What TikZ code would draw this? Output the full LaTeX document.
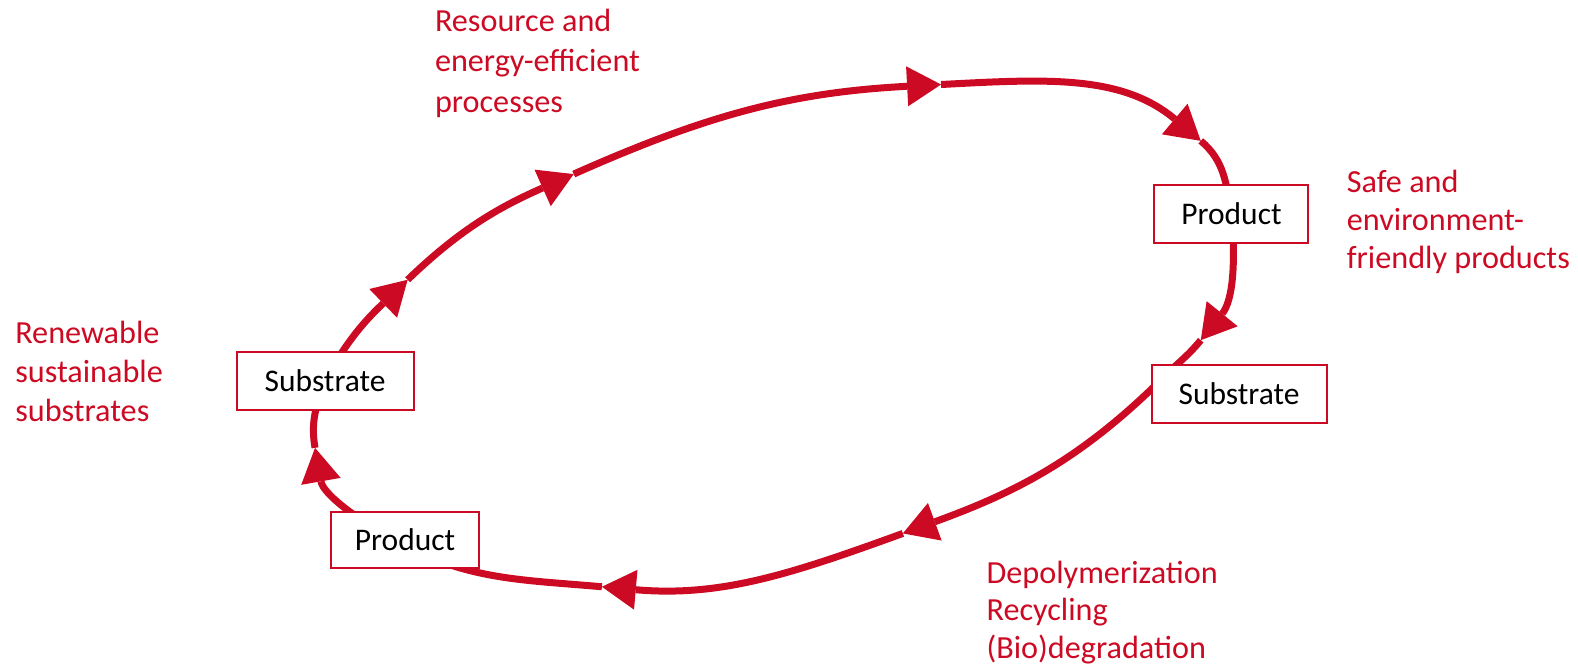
\documentclass[tikz,border=0pt]{standalone}
\usepackage{fontspec}
\setmainfont{Carlito}
\usetikzlibrary{arrows.meta,backgrounds}
\definecolor{cyred}{RGB}{204,10,35}
\begin{document}
\begin{tikzpicture}[x=1.0065pt,y=1.0065pt,
  box/.style={draw=cyred,line width=2pt,fill=white,inner sep=0pt,font=\fontsize{31.5}{38}\selectfont,text=black},
  lbl/.style={text=cyred,align=left,anchor=north west,inner sep=0pt,font=\fontsize{32.2}{38.8}\selectfont},
  flow/.style={draw=cyred,line width=7pt},
  tipped/.style={flow,-{Triangle[length=34pt,width=40pt,line width=0pt]}}]
\begin{scope}[shift={(0pt,-4.3pt)}]
\node[box,minimum width=177pt,minimum height=57.4pt] (sL) at (323,287.5) {Substrate};
\node[box,minimum width=148pt,minimum height=55.4pt] (pBL) at (402.5,129.5) {Product};
\node[box,minimum width=154pt,minimum height=57.4pt] (pTR) at (1223.5,453.5) {Product};
\node[box,minimum width=175pt,minimum height=57.4pt] (sR) at (1231,274.5) {Substrate};
\coordinate (sRin) at (1158,293);
\coordinate (pBLin) at (387,132);
\coordinate (A1) at (405,388);
\coordinate (A2) at (570,493);
\coordinate (A3) at (935,582);
\coordinate (A4) at (1193,526);
\coordinate (A5) at (1193,328);
\coordinate (A6) at (897,136);
\coordinate (A7) at (598,83);
\coordinate (A8) at (313,221);
\node[lbl] (t1) at (432,657) {Resource and\\[1.5pt]energy-efficient\\[1.5pt]processes};
\node[lbl] (t2) at (1338,497) {Safe and\\[-1pt]environment-\\[-1pt]friendly products};
\node[lbl] (t3) at (15,347) {Renewable\\sustainable\\substrates};
\node[lbl] (t4) at (980,109) {Depolymerization\\[-1pt]Recycling\\[-1pt](Bio)degradation};
\begin{pgfonlayer}{background}
\draw[tipped] (sL.center) to[out=62,in=224] (A1);
\draw[tipped] (A1) to[out=44,in=204] (A2);
\draw[tipped] (A2) to[out=24,in=183] (A3);
\draw[tipped] (A3) to[out=3,in=140] (A4);
\draw[flow] (A4) to[out=-40,in=100] (pTR.center);
\draw[tipped] (pTR.center) to[out=-85,in=51] (A5);
\draw[flow] (A5) to[out=231,in=45] (sRin);
\draw[tipped] (sRin) to[out=225,in=20] (A6);
\draw[tipped] (A6) to[out=200,in=-5] (A7);
\draw[flow] (A7) to[out=175,in=-30] (pBLin);
\draw[tipped] (pBLin) to[out=150,in=-80] (A8);
\draw[flow] (A8) to[out=100,in=250] (sL.center);
\end{pgfonlayer}
\end{scope}
\pgfresetboundingbox
\useasboundingbox (0pt,0pt) rectangle (1578pt,666pt);
\end{tikzpicture}
\end{document}
